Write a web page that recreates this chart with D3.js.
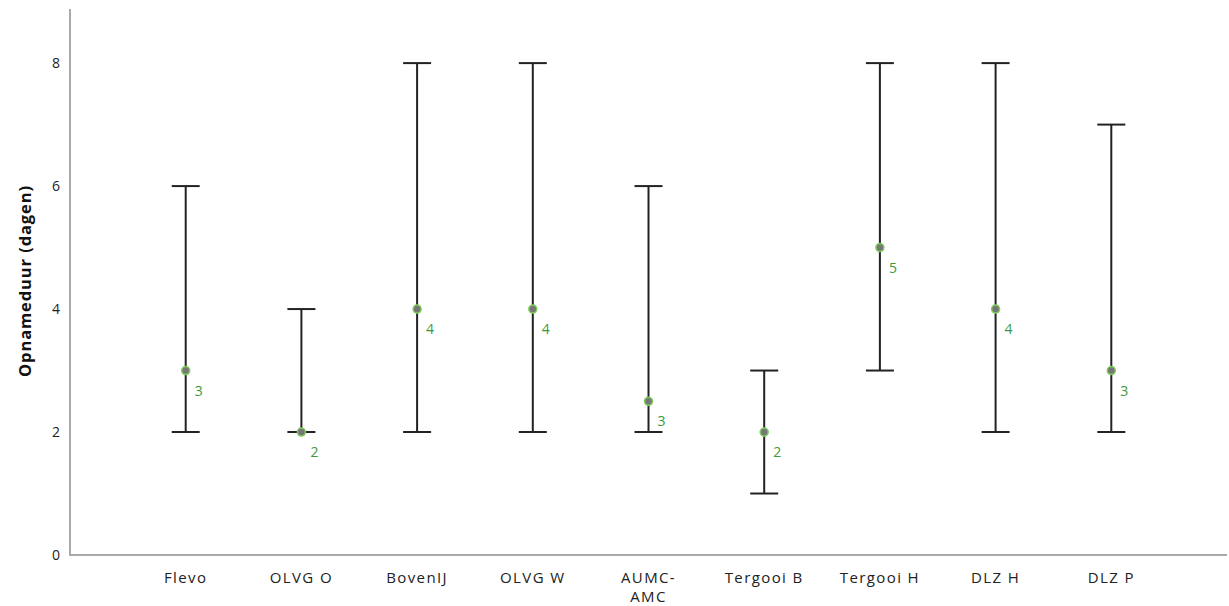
<!DOCTYPE html>
<html lang="nl">
<head>
<meta charset="utf-8">
<title>Opnameduur per ziekenhuis</title>
<script src="https://cdn.jsdelivr.net/npm/d3@7/dist/d3.min.js"></script>
<style>
body { margin: 0; background: #fff; }
.tick-label { font-family: "Open Sans", sans-serif; font-size: 14px; fill: #222; }
.x-label { letter-spacing: 1.4px; font-size: 15px; }
.y-title { font-family: "Open Sans", sans-serif; font-size: 16.5px; letter-spacing: 0.9px; font-weight: bold; fill: #111; }
.med-label { font-family: "Open Sans", sans-serif; font-size: 14px; fill: #3c9a3c; }
</style>
</head>
<body>
<script>
// data
var hospitals = ["Flevo", "OLVG O", "BovenIJ", "OLVG W", "AUMC-AMC", "Tergooi B", "Tergooi H", "DLZ H", "DLZ P"];
var lowVals  = [2, 2, 2, 2, 2, 1, 3, 2, 2];
var highVals = [6, 4, 8, 8, 6, 3, 8, 8, 7];
var medians  = [3, 2, 4, 4, 2.5, 2, 5, 4, 3];
var medLabels = ["3", "2", "4", "4", "3", "2", "5", "4", "3"];
var yTicks = [0, 2, 4, 6, 8];

var W = 1229, H = 606;
var plotL = 70, plotR = 1227, plotT = 9, plotB = 555;

var svg = d3.select("body").append("svg")
  .attr("width", W).attr("height", H);

var x = d3.scalePoint().domain(hospitals).range([plotL, plotR]).padding(1);
var y = d3.scaleLinear().domain([0, 8.88]).range([plotB, plotT]);

// axes
svg.append("line")
  .attr("x1", plotL).attr("x2", plotL).attr("y1", plotT).attr("y2", plotB)
  .attr("stroke", "#aaa").attr("stroke-width", 2);
svg.append("line")
  .attr("x1", plotL - 1).attr("x2", plotR).attr("y1", plotB).attr("y2", plotB)
  .attr("stroke", "#aaa").attr("stroke-width", 2);

svg.selectAll(".ytick").data(yTicks).enter().append("text")
  .attr("class", "tick-label")
  .attr("x", 60).attr("y", function(d) { return y(d) + 5; })
  .attr("text-anchor", "end")
  .text(function(d) { return d; });

svg.selectAll(".xtick").data(hospitals).enter().append("text")
  .attr("class", "tick-label x-label")
  .attr("x", function(d) { return x(d); })
  .attr("y", 583)
  .attr("text-anchor", "middle")
  .each(function(d) {
    var parts = d === "AUMC-AMC" ? ["AUMC-", "AMC"] : [d];
    var t = d3.select(this);
    parts.forEach(function(p, i) {
      t.append("tspan").attr("x", x(d)).attr("dy", i === 0 ? 0 : 19).text(p);
    });
  });

svg.append("text")
  .attr("class", "y-title")
  .attr("transform", "translate(31,281) rotate(-90)")
  .attr("text-anchor", "middle")
  .text("Opnameduur (dagen)");

// error bars
var capW = 14;
var bars = svg.selectAll(".bar").data(hospitals).enter().append("g");
bars.append("line")
  .attr("x1", function(d) { return x(d); }).attr("x2", function(d) { return x(d); })
  .attr("y1", function(d, i) { return y(lowVals[i]); })
  .attr("y2", function(d, i) { return y(highVals[i]); })
  .attr("stroke", "#222").attr("stroke-width", 2);
bars.append("line")
  .attr("x1", function(d) { return x(d) - capW; }).attr("x2", function(d) { return x(d) + capW; })
  .attr("y1", function(d, i) { return y(lowVals[i]); })
  .attr("y2", function(d, i) { return y(lowVals[i]); })
  .attr("stroke", "#222").attr("stroke-width", 2);
bars.append("line")
  .attr("x1", function(d) { return x(d) - capW; }).attr("x2", function(d) { return x(d) + capW; })
  .attr("y1", function(d, i) { return y(highVals[i]); })
  .attr("y2", function(d, i) { return y(highVals[i]); })
  .attr("stroke", "#222").attr("stroke-width", 2);

// medians
bars.append("circle")
  .attr("cx", function(d) { return x(d); })
  .attr("cy", function(d, i) { return y(medians[i]); })
  .attr("r", 4)
  .attr("fill", "#777")
  .attr("stroke", "#7ccf5a").attr("stroke-width", 1.5);
bars.append("text")
  .attr("class", "med-label")
  .attr("x", function(d) { return x(d) + 9; })
  .attr("y", function(d, i) { return y(medians[i]) + 25; })
  .text(function(d, i) { return medLabels[i]; });
</script>
</body>
</html>
